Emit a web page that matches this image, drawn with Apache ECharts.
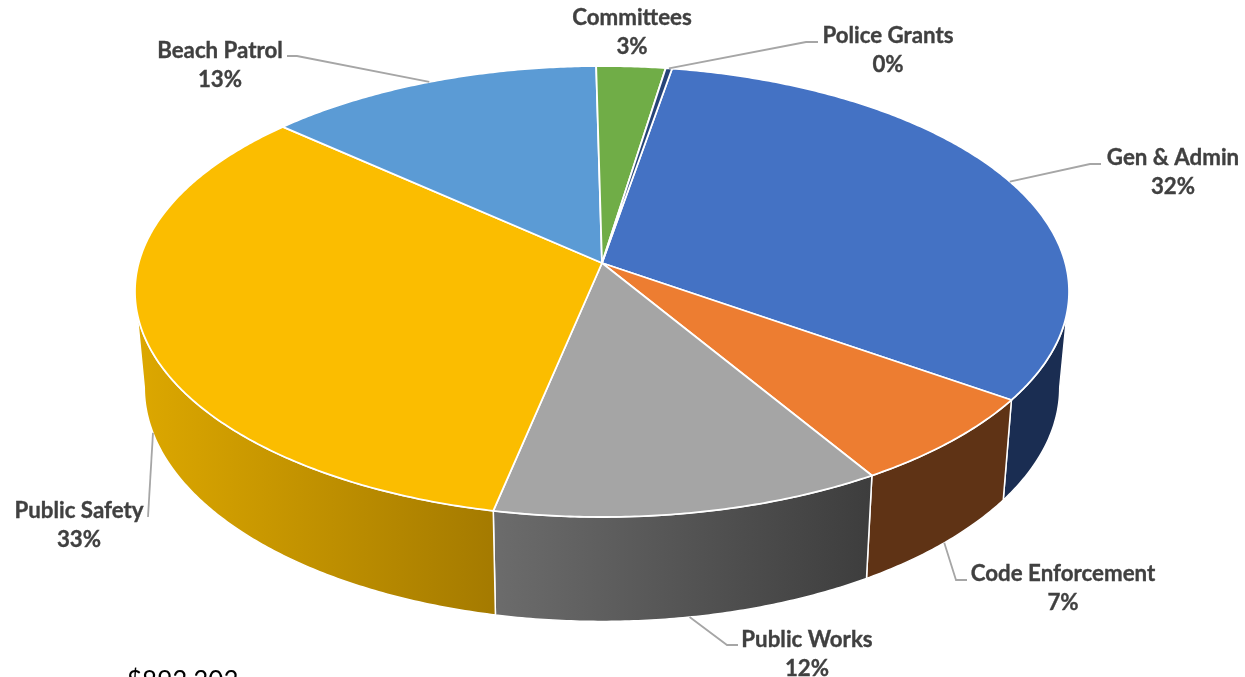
<!DOCTYPE html>
<html>
<head>
<meta charset="utf-8">
<style>
  html, body { margin: 0; padding: 0; background: #fff; overflow: hidden; }
  #chart { width: 1245px; height: 677px; }
</style>
<script src="https://cdn.jsdelivr.net/npm/echarts@6/dist/echarts.min.js"></script>
</head>
<body>
<div id="chart"></div>
<script>
// Budget shares, clockwise from the first slice.
const categories = ['Gen & Admin', 'Code Enforcement', 'Public Works', 'Public Safety', 'Beach Patrol', 'Committees', 'Police Grants'];
const shares = [32.0, 6.6, 12.0, 33.3, 13.2, 2.7, 0.25];
const footnote = '$893,303';

const topColors = ['#4472C4', '#ED7D31', '#A5A5A5', '#FBBD00', '#5B9BD5', '#70AD47', '#264478'];
// Wall shading per slice: colour on the left edge, colour on the right edge.
const wallColors = [
  ['#1A2D52', '#1A2D52'], ['#5F3315', '#5F3315'], ['#6C6C6C', '#3D3D3D'], ['#DDA800', '#A47A00'],
  ['#2F5A80', '#2F5A80'], ['#41662A', '#41662A'], ['#16284A', '#16284A']
];

// Label placement: text centre, leader elbow and end, and where the leader leaves the pie.
const labelLayout = [
  { cx: 1173, cy: 172, from: 'top',  path: [[1090, 164], [1101, 164]] },
  { cx: 1063, cy: 588, from: 'wall', path: [[956, 580], [967, 580]] },
  { cx: 807,  cy: 654, from: 'wall', path: [[727, 645], [738, 645]] },
  { cx: 79,   cy: 525, from: 'wall', path: [[148, 517]] },
  { cx: 220,  cy: 65,  from: 'top',  path: [[297, 56], [287, 56]] },
  { cx: 632,  cy: 32,  from: null,   path: [] },
  { cx: 888,  cy: 50,  from: 'top',  path: [[806, 42], [818, 42]] }
];

// Perspective view of the disc: apex position, scale and foreshortening.
const view = { apexX: 602, apexY: 263, a: 463.3, b: 221.9, p: 0.1264, startDeg: 9.8 };
// The lower rim is the upper rim scaled slightly and pushed down.
const rim = { sx: 0.98, sy: 1.037, dy: 95 };
// Walls only exist between the two points where the rim is widest in x.
const silhouetteDeg = 90 + Math.asin(view.p) * 180 / Math.PI;
const wallRange = [silhouetteDeg, 360 - silhouetteDeg];

const total = shares.reduce((s, v) => s + v, 0);
let running = 0;
const rows = shares.map((v, i) => {
  const start = view.startDeg + running / total * 360;
  running += v;
  return [i, start, view.startDeg + running / total * 360, v];
});

function project(deg) {
  const t = deg * Math.PI / 180;
  const x = Math.sin(t), y = -Math.cos(t);
  const d = 1 - view.p * y;
  return [view.a * x / d, view.b * y / d];
}
const topPoint = deg => { const q = project(deg); return [view.apexX + q[0], view.apexY + q[1]]; };
const basePoint = deg => {
  const q = project(deg);
  return [view.apexX + q[0] * rim.sx, view.apexY + q[1] * rim.sy + rim.dy];
};
function arc(fn, a0, a1) {
  const n = Math.max(2, Math.ceil(Math.abs(a1 - a0) * 2));
  const pts = [];
  for (let k = 0; k <= n; k++) pts.push(fn(a0 + (a1 - a0) * k / n));
  return pts;
}

function renderWall(params, api) {
  const i = api.value(0);
  const a0 = Math.max(api.value(1), wallRange[0]), a1 = Math.min(api.value(2), wallRange[1]);
  if (a1 <= a0) return null;
  const pts = arc(topPoint, a0, a1).concat(arc(basePoint, a1, a0));
  return {
    type: 'polygon',
    shape: { points: pts },
    style: {
      fill: { type: 'linear', x: 0, y: 0, x2: 1, y2: 0, colorStops: [
        { offset: 0, color: wallColors[i][0] }, { offset: 1, color: wallColors[i][1] }
      ] },
      stroke: '#fff', lineWidth: 1.5, lineJoin: 'round'
    }
  };
}

function renderTop(params, api) {
  const i = api.value(0), a0 = api.value(1), a1 = api.value(2);
  const pts = [[view.apexX, view.apexY]].concat(arc(topPoint, a0, a1));
  return {
    type: 'polygon',
    shape: { points: pts },
    style: { fill: topColors[i], stroke: '#fff', lineWidth: 1.8, lineJoin: 'round' }
  };
}

function renderLabel(params, api) {
  const i = api.value(0), a0 = api.value(1), a1 = api.value(2);
  const cfg = labelLayout[i];
  const children = [{
    type: 'text',
    style: {
      x: cfg.cx, y: cfg.cy,
      text: categories[i] + '\n' + Math.round(api.value(3) / total * 100) + '%',
      align: 'center', verticalAlign: 'middle',
      font: 'bold 22.3px Lato', lineHeight: 29, fill: '#404040',
      stroke: '#404040', lineWidth: 0.35
    }
  }];
  if (cfg.from) {
    const mid = (a0 + a1) / 2;
    const origin = cfg.from === 'top' ? topPoint(mid) : basePoint(mid);
    children.push({
      type: 'polyline',
      shape: { points: [origin].concat(cfg.path) },
      style: { fill: 'none', stroke: '#A6A6A6', lineWidth: 1.8 }
    });
  }
  return { type: 'group', children };
}

const chart = echarts.init(document.getElementById('chart'), null, { renderer: 'canvas' });
const encode = { x: 0 };
chart.setOption({
  animation: false,
  backgroundColor: '#fff',
  dataset: { source: rows },
  series: [
    { type: 'custom', coordinateSystem: 'none', renderItem: renderWall, encode, z: 1, silent: true },
    { type: 'custom', coordinateSystem: 'none', renderItem: renderTop, encode, z: 2, silent: true },
    { type: 'custom', coordinateSystem: 'none', renderItem: renderLabel, encode, z: 3, silent: true }
  ],
  graphic: [{
    type: 'text', left: 127, top: 669,
    style: { text: footnote, font: '26px Lato', fill: '#000' }
  }]
});
</script>
</body>
</html>
